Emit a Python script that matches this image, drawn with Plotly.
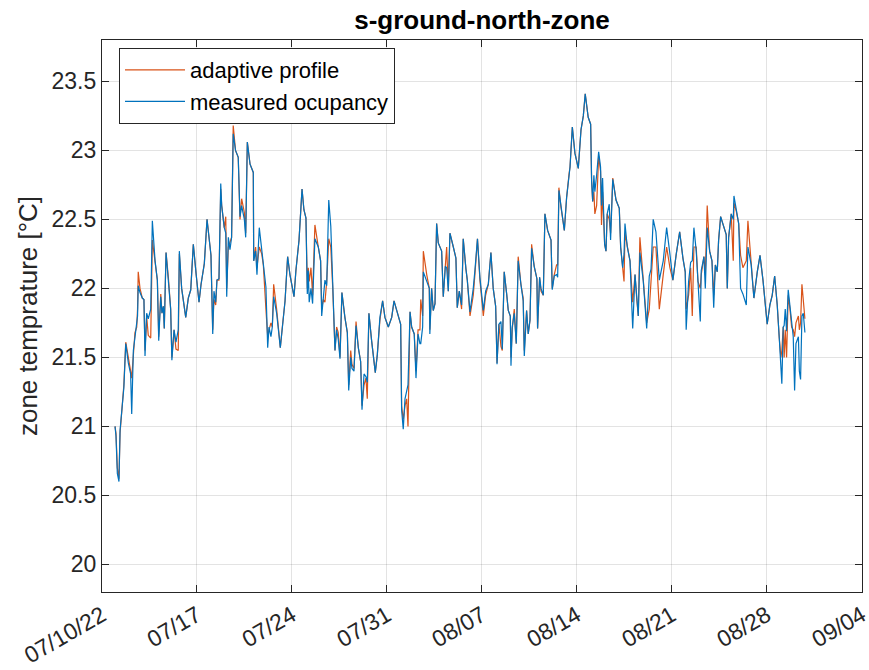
import pandas as pd
import plotly.graph_objects as go

# Sample times, in days after 2022-07-10 00:00
day = [
    0.96, 1.03, 1.13, 1.25, 1.33, 1.45, 1.57, 1.61, 1.75, 1.94, 2.11, 2.19, 2.31, 2.43, 2.56, 2.62,
    2.67, 2.80, 2.97, 3.09, 3.17, 3.29, 3.41, 3.59, 3.71, 3.91, 4.08, 4.18, 4.33, 4.42, 4.52, 4.59,
    4.72, 4.89, 5.06, 5.15, 5.31, 5.45, 5.62, 5.70, 5.87, 6.17, 6.36, 6.54, 6.73, 6.93, 7.15, 7.30,
    7.54, 7.74, 7.88, 8.03, 8.16, 8.25, 8.38, 8.47, 8.62, 8.75, 8.82, 9.01, 9.12, 9.19, 9.31, 9.43,
    9.55, 9.67, 9.84, 10.04, 10.17, 10.29, 10.49, 10.59, 10.71, 10.91, 11.15, 11.18, 11.32, 11.42, 11.59, 11.77,
    11.89, 12.08, 12.21, 12.31, 12.45, 12.55, 12.65, 12.87, 13.14, 13.29, 13.49, 13.68, 13.85, 14.15, 14.29, 14.52,
    14.74, 14.88, 15.03, 15.13, 15.20, 15.27, 15.40, 15.52, 15.69, 15.94, 16.11, 16.19, 16.31, 16.43, 16.56, 16.71,
    16.86, 17.00, 17.17, 17.29, 17.41, 17.54, 17.68, 17.90, 18.08, 18.18, 18.33, 18.42, 18.57, 18.72, 18.89, 19.06,
    19.16, 19.31, 19.45, 19.55, 19.67, 19.87, 20.14, 20.29, 20.48, 20.68, 20.85, 21.10, 21.35, 21.52, 21.76, 22.01,
    22.08, 22.20, 22.33, 22.45, 22.55, 22.70, 22.82, 23.01, 23.14, 23.29, 23.43, 23.49, 23.63, 23.68, 23.93, 24.12,
    24.16, 24.29, 24.41, 24.54, 24.66, 24.78, 25.03, 25.15, 25.30, 25.40, 25.52, 25.64, 25.89, 26.08, 26.18, 26.33,
    26.50, 26.62, 26.82, 26.92, 27.12, 27.36, 27.48, 27.67, 27.85, 28.10, 28.27, 28.47, 28.66, 28.83, 29.01, 29.11,
    29.25, 29.40, 29.50, 29.64, 29.82, 29.94, 30.09, 30.14, 30.23, 30.38, 30.53, 30.67, 30.87, 31.04, 31.12, 31.29,
    31.41, 31.54, 31.66, 31.85, 32.05, 32.10, 32.25, 32.35, 32.52, 32.64, 32.84, 33.09, 33.18, 33.33, 33.50, 33.58,
    33.67, 33.82, 34.07, 34.24, 34.42, 34.49, 34.66, 34.85, 35.10, 35.30, 35.47, 35.61, 35.83, 36.01, 36.08, 36.16,
    36.25, 36.32, 36.45, 36.60, 36.74, 36.81, 36.89, 37.04, 37.14, 37.23, 37.38, 37.48, 37.64, 37.88, 38.12, 38.22,
    38.37, 38.47, 38.54, 38.71, 38.91, 39.11, 39.28, 39.40, 39.52, 39.64, 39.89, 40.14, 40.33, 40.46, 40.62, 40.82,
    41.07, 41.36, 41.61, 41.85, 42.07, 42.32, 42.57, 42.81, 42.98, 43.05, 43.23, 43.38, 43.50, 43.62, 43.79, 43.92,
    44.09, 44.16, 44.36, 44.46, 44.60, 44.78, 44.95, 45.08, 45.20, 45.34, 45.44, 45.59, 45.84, 46.00, 46.08, 46.18,
    46.37, 46.52, 46.57, 46.74, 46.92, 47.06, 47.23, 47.48, 47.60, 47.84, 48.04, 48.29, 48.49, 48.71, 49.02, 49.22,
    49.39, 49.57, 49.76, 49.91, 50.03, 50.10, 50.20, 50.27, 50.35, 50.45, 50.57, 50.70, 50.82, 50.94, 51.04, 51.14,
    51.32, 51.39, 51.48, 51.58, 51.68, 51.80,
]

# Zone temperature with measured occupancy [°C]
measured = [
    21.00, 20.93, 20.66, 20.60, 20.97, 21.09, 21.19, 21.28, 21.60, 21.46, 21.38, 21.09, 21.55, 21.65, 21.75, 21.80,
    22.02, 21.97, 21.93, 21.92, 21.51, 21.82, 21.78, 21.85, 22.49, 22.20, 22.06, 21.62, 21.94, 21.82, 21.87, 21.71,
    22.26, 22.08, 21.85, 21.48, 21.70, 21.61, 21.70, 22.27, 22.00, 21.79, 21.93, 21.99, 22.32, 22.11, 21.90, 22.03,
    22.18, 22.50, 22.36, 22.24, 21.67, 21.98, 21.90, 22.06, 22.07, 22.76, 22.60, 22.44, 22.40, 21.94, 22.37, 22.28,
    22.37, 23.12, 23.00, 22.95, 22.52, 22.60, 22.50, 22.37, 23.06, 22.90, 22.84, 22.20, 22.27, 22.10, 22.44, 22.27,
    22.17, 22.01, 21.57, 21.72, 21.65, 21.72, 21.94, 21.82, 21.57, 21.72, 21.91, 22.23, 22.10, 21.94, 22.13, 22.35,
    22.72, 22.57, 22.51, 21.96, 22.13, 21.90, 22.00, 21.89, 22.36, 22.30, 22.20, 21.80, 21.94, 22.06, 22.02, 22.64,
    22.45, 22.01, 21.55, 21.70, 21.63, 21.49, 21.97, 21.79, 21.68, 21.26, 21.50, 21.42, 21.40, 21.73, 21.57, 21.47,
    21.12, 21.38, 21.36, 21.32, 21.82, 21.62, 21.39, 21.52, 21.79, 21.91, 21.79, 21.72, 21.79, 21.91, 21.82, 21.74,
    21.12, 20.98, 21.20, 21.26, 21.30, 21.83, 21.72, 21.67, 21.35, 21.67, 21.60, 21.60, 21.72, 22.12, 22.05, 22.00,
    21.67, 22.00, 21.84, 21.89, 22.47, 22.33, 22.27, 21.94, 22.16, 22.15, 21.98, 22.40, 22.30, 22.22, 21.86, 21.98,
    21.88, 22.36, 22.14, 22.06, 21.83, 22.00, 22.13, 22.36, 22.08, 21.84, 21.98, 22.03, 22.26, 22.00, 21.87, 21.45,
    21.74, 21.76, 21.56, 22.12, 21.96, 21.84, 21.80, 21.44, 21.72, 21.82, 21.60, 22.20, 22.03, 21.91, 21.51, 21.84,
    21.67, 21.77, 22.29, 22.16, 22.07, 21.71, 22.08, 22.00, 21.95, 22.54, 22.42, 22.35, 21.99, 22.09, 22.10, 22.08,
    22.71, 22.59, 22.42, 22.66, 22.83, 22.88, 23.17, 22.98, 22.87, 23.15, 23.25, 23.41, 23.24, 23.19, 22.78, 22.63,
    22.82, 22.70, 22.82, 22.99, 22.88, 22.60, 22.80, 22.32, 22.27, 22.54, 22.61, 22.35, 22.79, 22.64, 22.58, 22.30,
    22.15, 22.25, 22.47, 22.30, 22.20, 21.71, 22.10, 21.93, 21.80, 22.26, 22.05, 21.71, 22.09, 22.14, 22.50, 22.41,
    22.06, 22.20, 22.44, 22.25, 22.06, 22.25, 22.41, 22.22, 22.12, 21.70, 22.05, 22.19, 22.20, 22.44, 22.27, 22.05,
    21.76, 22.13, 22.23, 22.00, 22.44, 22.27, 22.20, 21.86, 22.17, 22.12, 22.35, 22.52, 22.44, 22.39, 22.00, 22.37,
    22.54, 22.50, 22.67, 22.56, 22.47, 22.00, 21.96, 21.88, 22.30, 22.17, 21.93, 22.12, 22.24, 22.06, 21.74, 21.88,
    21.95, 22.09, 21.88, 21.64, 21.36, 21.31, 21.72, 21.73, 21.85, 21.69, 21.99, 21.85, 21.72, 21.65, 21.26, 21.60,
    21.65, 21.40, 21.34, 21.80, 21.82, 21.68,
]

# Zone temperature with the adaptive occupancy profile [°C]
adaptive = [
    21.00, 20.95, 20.70, 20.62, 20.95, 21.10, 21.22, 21.30, 21.61, 21.48, 21.40, 21.35, 21.55, 21.68, 21.72, 21.85,
    22.12, 22.00, 21.93, 21.92, 21.55, 21.80, 21.66, 21.64, 22.35, 22.20, 22.06, 21.65, 21.96, 21.82, 21.87, 21.71,
    22.26, 22.08, 21.85, 21.50, 21.70, 21.56, 21.55, 22.25, 22.00, 21.79, 21.93, 21.99, 22.32, 22.11, 21.90, 22.03,
    22.18, 22.50, 22.36, 22.24, 21.70, 21.92, 21.88, 22.06, 22.06, 22.72, 22.60, 22.44, 22.52, 22.00, 22.30, 22.33,
    22.37, 23.18, 23.00, 22.95, 22.50, 22.65, 22.55, 22.40, 23.06, 22.90, 22.84, 22.20, 22.30, 22.15, 22.30, 22.25,
    22.17, 21.85, 21.65, 21.70, 21.75, 21.72, 22.03, 21.85, 21.57, 21.72, 21.91, 22.23, 22.10, 21.94, 22.13, 22.35,
    22.72, 22.57, 22.51, 22.00, 22.15, 22.05, 22.15, 21.95, 22.46, 22.30, 22.20, 21.85, 21.92, 21.90, 22.05, 22.36,
    22.30, 22.01, 21.55, 21.72, 21.68, 21.50, 21.97, 21.79, 21.68, 21.30, 21.55, 21.45, 21.42, 21.76, 21.57, 21.47,
    21.15, 21.30, 21.35, 21.20, 21.82, 21.62, 21.39, 21.52, 21.77, 21.91, 21.79, 21.72, 21.79, 21.91, 21.82, 21.74,
    21.15, 21.05, 21.15, 21.20, 21.00, 21.83, 21.72, 21.67, 21.40, 21.70, 21.70, 21.92, 21.80, 22.27, 22.10, 22.00,
    21.70, 22.00, 21.84, 21.89, 22.47, 22.33, 22.27, 21.94, 22.16, 22.30, 21.98, 22.40, 22.30, 22.22, 21.86, 21.98,
    21.85, 22.36, 22.14, 22.06, 21.80, 21.95, 22.10, 22.36, 22.06, 21.80, 21.95, 22.03, 22.26, 22.00, 21.87, 21.46,
    21.74, 21.58, 21.55, 22.12, 21.96, 21.84, 21.80, 21.50, 21.70, 21.85, 21.60, 22.23, 22.03, 21.93, 21.55, 21.84,
    21.67, 21.77, 22.32, 22.16, 22.07, 21.71, 22.08, 21.98, 21.95, 22.54, 22.42, 22.35, 22.00, 22.10, 22.17, 22.17,
    22.73, 22.59, 22.42, 22.66, 22.83, 22.88, 23.17, 22.98, 22.87, 23.15, 23.25, 23.41, 23.24, 23.19, 22.78, 22.63,
    22.70, 22.54, 22.60, 22.96, 22.85, 22.46, 22.70, 22.32, 22.27, 22.54, 22.50, 22.40, 22.80, 22.64, 22.58, 22.30,
    22.15, 22.05, 22.40, 22.30, 22.20, 21.90, 22.10, 21.93, 21.80, 22.37, 22.08, 21.75, 21.85, 22.05, 22.30, 22.30,
    21.85, 22.10, 22.30, 22.15, 22.06, 22.25, 22.41, 22.22, 22.12, 21.85, 21.95, 22.15, 21.80, 22.30, 22.30, 22.05,
    22.00, 22.10, 22.23, 22.10, 22.60, 22.27, 22.20, 21.95, 22.17, 22.12, 22.35, 22.52, 22.44, 22.39, 22.00, 22.37,
    22.54, 22.20, 22.62, 22.56, 22.47, 22.24, 22.15, 22.20, 22.49, 22.17, 21.93, 22.12, 22.24, 22.06, 21.74, 21.88,
    21.95, 22.09, 21.88, 21.64, 21.50, 21.55, 21.72, 21.50, 21.70, 21.50, 21.95, 21.85, 21.72, 21.70, 21.65, 21.75,
    21.80, 21.70, 21.75, 22.03, 21.90, 21.78,
]

tick_days = [0, 7, 14, 21, 28, 35, 42, 49, 56]
tick_text = ["07/10/22", "07/17", "07/24", "07/31", "08/07", "08/14", "08/21", "08/28", "09/04"]
y_ticks = [20, 20.5, 21, 21.5, 22, 22.5, 23, 23.5]

start = pd.Timestamp("2022-07-10")
t = start + pd.to_timedelta(day, unit="D")
tick_vals = [start + pd.Timedelta(days=d) for d in tick_days]
# a hair of slack on the right so the last tick label is kept
x_range = [tick_vals[0], tick_vals[-1] + pd.Timedelta(minutes=10)]

ink = "#262626"
font = "Liberation Sans, Arial, sans-serif"

fig = go.Figure()
fig.add_trace(go.Scatter(x=t, y=adaptive, mode="lines", name="adaptive profile",
                         line=dict(color="#D95319", width=1.2)))
fig.add_trace(go.Scatter(x=t, y=measured, mode="lines", name="measured ocupancy",
                         line=dict(color="#0072BD", width=1.2)))

axis_common = dict(
    showline=True, linecolor=ink, linewidth=1.3, mirror="ticks",
    ticks="inside", ticklen=7, tickwidth=1, tickcolor=ink,
    showgrid=True, gridcolor="rgba(38,38,38,0.13)", gridwidth=1,
    zeroline=False, automargin=False,
    tickfont=dict(family=font, size=23, color=ink),
)

fig.update_layout(
    width=869, height=670,
    margin=dict(l=102, r=7, t=40, b=78),
    paper_bgcolor="white", plot_bgcolor="white",
    font=dict(family=font, color=ink),
    title=dict(text="<b>s-ground-north-zone</b>", x=(102 + 862) / 2 / 869, xanchor="center",
               y=1 - 20 / 670, yanchor="middle", font=dict(family=font, size=26, color="black")),
    xaxis=dict(range=x_range, tickvals=tick_vals, ticktext=tick_text,
               tickangle=-30, ticklabeloverflow="allow", **axis_common),
    yaxis=dict(range=[19.8, 23.8], tickvals=y_ticks, ticktext=[f"{v:g}" for v in y_ticks],
               title=dict(text="zone temprature [°C]", font=dict(family=font, size=26, color=ink),
                          standoff=6),
               **axis_common),
    legend=dict(x=17 / 760, y=1 - 8 / 552, xanchor="left", yanchor="top",
                bgcolor="white", bordercolor=ink, borderwidth=1, itemwidth=60,
                font=dict(family=font, size=22, color="black"), tracegroupgap=0),
    showlegend=True,
)

fig.write_html("out.html")
